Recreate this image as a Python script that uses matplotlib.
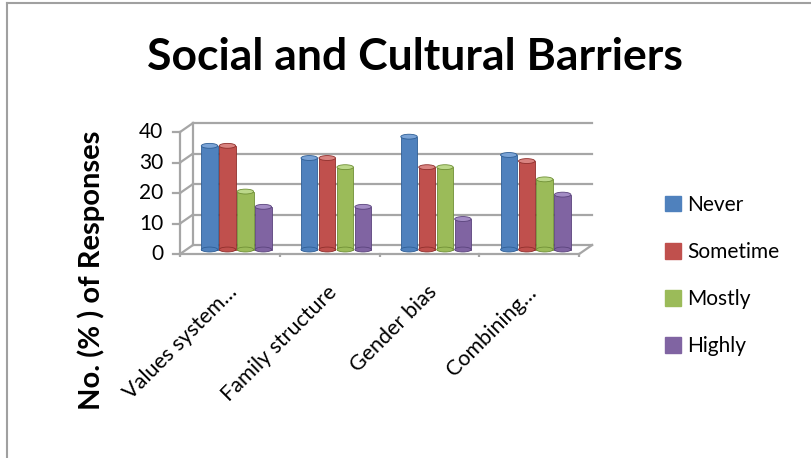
import matplotlib.pyplot as plt
from matplotlib.patches import Ellipse, Patch
from matplotlib.lines import Line2D

# data
categories = ['Values system…', 'Family structure', 'Gender bias', 'Combining…']
series = ['Never', 'Sometime', 'Mostly', 'Highly']
never = [34, 30, 37, 31]
sometime = [34, 30, 27, 29]
mostly = [19, 27, 27, 23]
highly = [14, 14, 10, 18]
yticks = [0, 10, 20, 30, 40]

colors = ['#4F81BD', '#C0504D', '#9BBB59', '#8064A2']
edges = ['#2f5f96', '#8f2f2c', '#6f8f35', '#5a437c']
tops = ['#7aa3d6', '#d98380', '#bcd88a', '#a38cc4']
grid_c = '#a6a6a6'
font = 'Lato'

fig = plt.figure(figsize=(8.11, 4.58), dpi=100)
ax = fig.add_axes([0.2011, 0.4384, 0.5536, 0.3063])
ax.set_xlim(-0.3, 4.2)
ax.set_ylim(-4, 42)
ax.axis('off')

# depth offset (back wall -> front edge)
dx, dy = -0.13, -2.95
n = len(categories)

# back wall gridlines + side wall
for v in yticks:
    ax.plot([0, n], [v, v], color=grid_c, lw=1.6, zorder=1)
    ax.plot([dx, 0], [v + dy, v], color=grid_c, lw=1.6, zorder=1)
    ax.plot([dx - 0.07, dx], [v + dy, v + dy], color=grid_c, lw=1.6, zorder=1)
    ax.text(dx - 0.17, v + dy, str(v), ha='right', va='center',
            fontsize=15, family=font)
ax.plot([dx, dx], [dy, 40 + dy], color=grid_c, lw=1.6, zorder=1)
ax.plot([0, 0], [0, 40], color=grid_c, lw=1.6, zorder=1)
# floor
ax.plot([dx, n + dx], [dy, dy], color=grid_c, lw=1.6, zorder=1)
ax.plot([n + dx, n], [dy, 0], color=grid_c, lw=1.6, zorder=1)
for i in range(n + 1):
    ax.plot([i + dx, i + dx], [dy, dy - 2.2], color=grid_c, lw=1.6, zorder=1)

# cylinders at mid depth
values = [never, sometime, mostly, highly]
w = 0.165
step = 0.18
base = dy / 2
for j, vals in enumerate(values):
    for i, v in enumerate(vals):
        xc = i + 0.5 + (j - 1.5) * step + dx / 2
        ax.bar(xc, v, width=w, bottom=base, color=colors[j],
               edgecolor=edges[j], linewidth=0.6, zorder=3 + j)
        ax.add_patch(Ellipse((xc, base), w, 1.6, color=colors[j],
                             ec=edges[j], lw=0.6, zorder=3 + j))
        ax.add_patch(Ellipse((xc, base + v), w, 1.6, color=tops[j],
                             ec=edges[j], lw=0.6, zorder=3 + j + 0.5))

# category labels
for i, c in enumerate(categories):
    ax.text(i + 0.5 + dx + 0.04, dy - 11.5, c, rotation=45, rotation_mode='anchor',
            ha='right', va='center', fontsize=15.5, family=font)

fig.text(0.512, 0.876, 'Social and Cultural Barriers', ha='center', va='center',
         fontsize=32, fontweight='bold', family=font)
fig.text(0.113, 0.41, 'No. (% ) of Responses', rotation=90, ha='center',
         va='center', fontsize=21, fontweight='bold', family=font)

handles = [Patch(color=c) for c in colors]
fig.legend(handles, series, loc='upper left', bbox_to_anchor=(0.797, 0.615),
           frameon=False, handlelength=0.75, handleheight=0.75,
           handletextpad=0.3, labelspacing=1.3, prop={'family': font, 'size': 15})

# chart border (top and left)
fig.add_artist(Line2D([0.009, 1.0], [0.993, 0.993], color='#a0a0a0', lw=1.5,
                      transform=fig.transFigure))
fig.add_artist(Line2D([0.009, 0.009], [0.0, 0.993], color='#a0a0a0', lw=1.5,
                      transform=fig.transFigure))

fig.savefig('out.png', dpi=100)
